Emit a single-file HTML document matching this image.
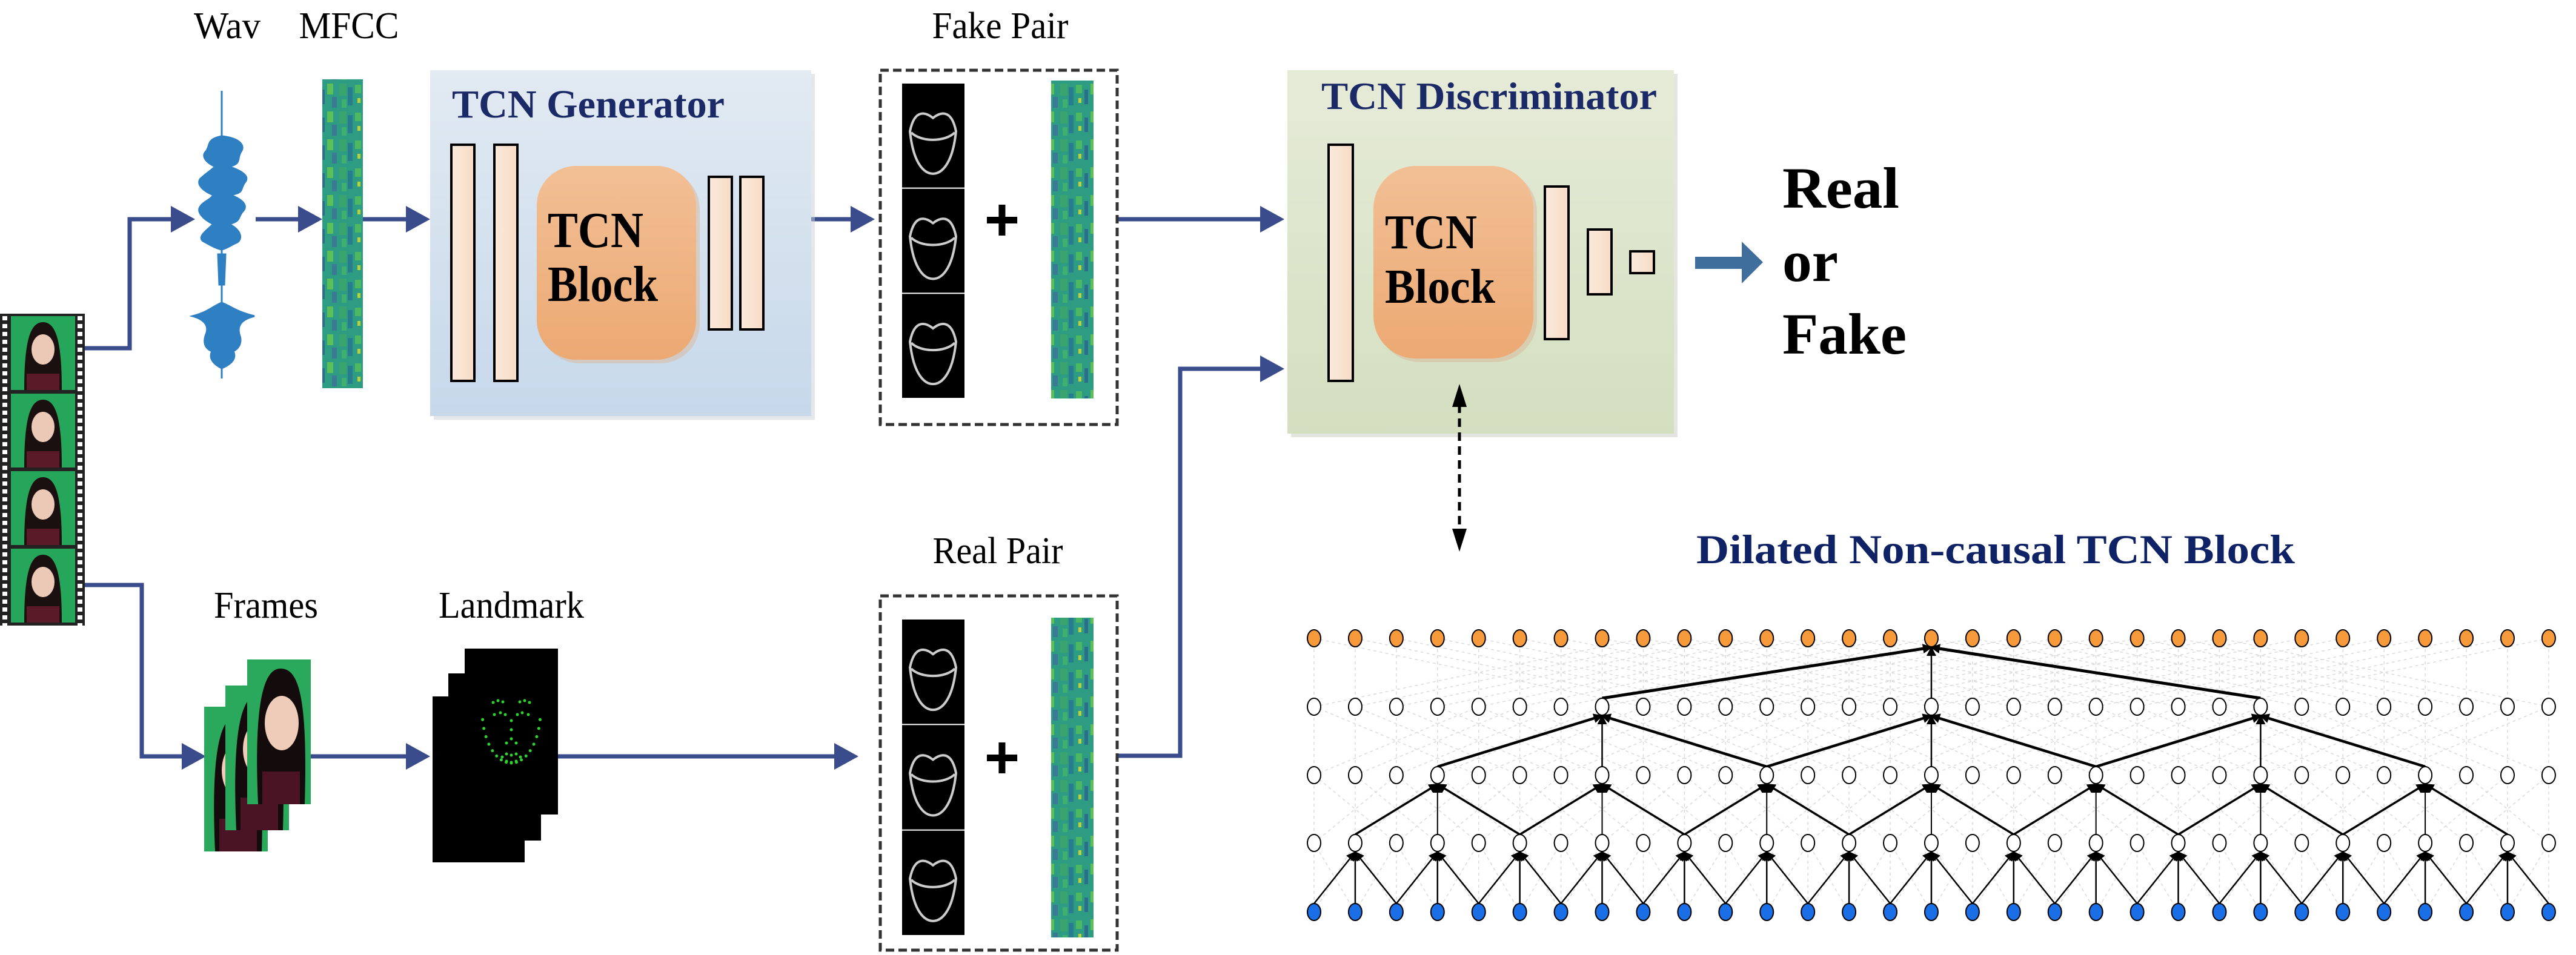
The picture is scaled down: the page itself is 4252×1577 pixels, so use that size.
<!DOCTYPE html>
<html><head><meta charset="utf-8"><style>html,body{margin:0;padding:0;background:#fff}svg{display:block}</style></head>
<body>
<svg id="s" xmlns="http://www.w3.org/2000/svg" width="4252" height="1577" viewBox="0 0 4252 1577">
<defs>
<linearGradient id="gen" x1="0" y1="0" x2="0" y2="1"><stop offset="0" stop-color="#e2eaf2"/><stop offset="1" stop-color="#c6d8ea"/></linearGradient>
<linearGradient id="dis" x1="0" y1="0" x2="0" y2="1"><stop offset="0" stop-color="#e6ebd8"/><stop offset="1" stop-color="#d3dfbf"/></linearGradient>
<linearGradient id="blk" x1="0" y1="0" x2="0" y2="1"><stop offset="0" stop-color="#f2bf95"/><stop offset="1" stop-color="#eca973"/></linearGradient>
<linearGradient id="bar" x1="0" y1="0" x2="1" y2="0"><stop offset="0" stop-color="#fbe9db"/><stop offset="1" stop-color="#f7dcc6"/></linearGradient>
<pattern id="mf" width="70" height="46" patternUnits="userSpaceOnUse">
<rect width="70" height="46" fill="#2e9c82"/><rect x="0" y="0" width="12" height="20" fill="#3aa46f"/><rect x="14" y="6" width="8" height="30" fill="#277c8e"/><rect x="26" y="2" width="10" height="14" fill="#4db864"/><rect x="40" y="10" width="6" height="24" fill="#2a6e8c"/><rect x="50" y="0" width="10" height="18" fill="#5cc05a"/><rect x="30" y="24" width="5" height="8" fill="#b8d040"/><rect x="58" y="22" width="8" height="18" fill="#3a7a94"/><rect x="4" y="26" width="8" height="14" fill="#40b070"/>
</pattern>
<marker id="ah" markerWidth="16" markerHeight="16" refX="7" refY="4" orient="auto" markerUnits="userSpaceOnUse" viewBox="0 0 8 8"><path d="M0,0 L8,4 L0,8 z" fill="#000"/></marker>
</defs>

<!-- film strip -->
<rect x="0" y="518" width="140" height="515" fill="#222"/>
<g id="film"></g>

<!-- navy connectors -->
<g stroke="#3a4c8c" stroke-width="7" fill="none">
<polyline points="140,575 214,575 214,362 300,362"/>
<line x1="422" y1="362" x2="515" y2="362"/>
<line x1="599" y1="362" x2="693" y2="362"/>
<line x1="1335" y1="362" x2="1425" y2="362"/>
<line x1="1844" y1="362" x2="2095" y2="362"/>
<polyline points="1844,1248 1948,1248 1948,609 2095,609"/>
<polyline points="140,966 234,966 234,1249 320,1249"/>
<line x1="513" y1="1249" x2="693" y2="1249"/>
<line x1="921" y1="1249" x2="1400" y2="1249"/>
</g>
<g fill="#3a4c8c">
<path d="M282,340 L322,362 L282,384 Z"/>
<path d="M492,340 L532,362 L492,384 Z"/>
<path d="M670,340 L710,362 L670,384 Z"/>
<path d="M1404,340 L1444,362 L1404,384 Z"/>
<path d="M2080,340 L2120,362 L2080,384 Z"/>
<path d="M2080,587 L2120,609 L2080,631 Z"/>
<path d="M300,1227 L340,1249 L300,1271 Z"/>
<path d="M670,1227 L710,1249 L670,1271 Z"/>
<path d="M1377,1227 L1417,1249 L1377,1271 Z"/>
</g>

<!-- labels -->
<g font-family="Liberation Serif, serif" font-size="62" fill="#000" text-anchor="middle">
<text x="375" y="63" textLength="110" lengthAdjust="spacingAndGlyphs">Wav</text>
<text x="576" y="63" textLength="165" lengthAdjust="spacingAndGlyphs">MFCC</text>
<text x="1651" y="63" textLength="225" lengthAdjust="spacingAndGlyphs">Fake Pair</text>
<text x="1647" y="930" textLength="215" lengthAdjust="spacingAndGlyphs">Real Pair</text>
<text x="439" y="1020" textLength="172" lengthAdjust="spacingAndGlyphs">Frames</text>
<text x="844" y="1020" textLength="240" lengthAdjust="spacingAndGlyphs">Landmark</text>
</g>

<!-- waveform -->
<g fill="#2f7fc3" stroke="#2f7fc3" stroke-width="3">
<line x1="366" y1="150" x2="366" y2="625"/>
<path d="M366,225 C395,228 405,240 398,250 C390,262 400,270 378,275 C398,282 412,290 405,300 C395,312 405,318 380,322 C402,330 410,340 400,350 C392,360 398,365 378,370 C395,378 402,392 392,400 C380,405 375,410 366,412 C355,410 345,403 335,398 C325,390 345,378 352,370 C335,362 325,350 330,342 C335,333 348,330 352,322 C335,315 325,305 330,296 C338,288 348,282 355,275 C340,268 332,258 340,250 C348,240 340,230 366,225 Z"/>
<path d="M366,500 C380,505 390,515 420,522 C395,528 392,540 395,552 C400,565 395,575 385,580 C390,590 385,600 366,608 C350,600 345,590 350,580 C338,575 335,565 340,552 C345,540 340,528 318,522 C345,515 352,505 366,500 Z"/>
<path d="M360,420 L372,420 L370,470 L362,470 Z"/>
</g>

<!-- MFCC strips -->
<rect x="532" y="131" width="67" height="510" fill="url(#mf)"/>
<rect x="1735" y="133" width="70" height="525" fill="url(#mf)"/>
<rect x="1735" y="1020" width="70" height="528" fill="url(#mf)"/>

<!-- Generator -->
<rect x="716" y="122" width="629" height="571" fill="#c8cfd6" opacity="0.5"/>
<rect x="710" y="116" width="629" height="571" fill="url(#gen)"/>
<text x="746" y="194" font-family="Liberation Serif, serif" font-weight="bold" font-size="66" fill="#1b2a66" textLength="450" lengthAdjust="spacingAndGlyphs">TCN Generator</text>
<g fill="url(#bar)" stroke="#000" stroke-width="4">
<rect x="745" y="239" width="38" height="390"/>
<rect x="816" y="239" width="38" height="390"/>
<rect x="1170" y="292" width="38" height="252"/>
<rect x="1222" y="292" width="38" height="252"/>
</g>
<rect x="892" y="280" width="263" height="320" rx="65" fill="#d9b89c" opacity="0.5"/>
<rect x="886" y="274" width="263" height="320" rx="65" fill="url(#blk)"/>
<g font-family="Liberation Serif, serif" font-weight="bold" font-size="84" fill="#000">
<text x="904" y="408" textLength="158" lengthAdjust="spacingAndGlyphs">TCN</text>
<text x="904" y="497" textLength="182" lengthAdjust="spacingAndGlyphs">Block</text>
</g>

<!-- Pair boxes -->
<g fill="none" stroke="#333" stroke-width="5" stroke-dasharray="14,7">
<rect x="1453" y="116" width="391" height="585"/>
<rect x="1453" y="984" width="391" height="585"/>
</g>
<g id="lips"></g>
<g font-family="Liberation Sans, sans-serif" font-weight="bold" font-size="100" fill="#000" text-anchor="middle">
<text x="1654" y="397">+</text>
<text x="1654" y="1285">+</text>
</g>

<!-- frames stack -->
<g id="frames"></g>
<!-- landmark stack -->
<rect x="714" y="1150" width="152" height="274" fill="#000"/>
<rect x="740" y="1112" width="153" height="276" fill="#000"/>
<rect x="767" y="1071" width="154" height="274" fill="#000"/>
<g id="lm" fill="#2fd12f"></g>

<!-- Discriminator -->
<rect x="2131" y="122" width="638" height="600" fill="#c8cec0" opacity="0.5"/>
<rect x="2125" y="116" width="638" height="600" fill="url(#dis)"/>
<text x="2181" y="180" font-family="Liberation Serif, serif" font-weight="bold" font-size="64" fill="#1b2a66" textLength="554" lengthAdjust="spacingAndGlyphs">TCN Discriminator</text>
<g fill="url(#bar)" stroke="#000" stroke-width="4">
<rect x="2193" y="239" width="40" height="390"/>
<rect x="2550" y="308" width="39" height="252"/>
<rect x="2621" y="379" width="39" height="107"/>
<rect x="2691" y="415" width="39" height="36"/>
</g>
<rect x="2273" y="280" width="264" height="318" rx="70" fill="#d9b89c" opacity="0.5"/>
<rect x="2267" y="274" width="264" height="318" rx="70" fill="url(#blk)"/>
<g font-family="Liberation Serif, serif" font-weight="bold" font-size="80" fill="#000">
<text x="2286" y="410" textLength="152" lengthAdjust="spacingAndGlyphs">TCN</text>
<text x="2286" y="500" textLength="182" lengthAdjust="spacingAndGlyphs">Block</text>
</g>
<path d="M2798,424 L2875,424 L2875,399 L2910,433 L2875,468 L2875,444 L2798,444 Z" fill="#3f6e9c"/>
<g font-family="Liberation Serif, serif" font-weight="bold" font-size="96" fill="#000">
<text x="2942" y="343" textLength="193" lengthAdjust="spacingAndGlyphs">Real</text>
<text x="2942" y="464" textLength="92" lengthAdjust="spacingAndGlyphs">or</text>
<text x="2942" y="584" textLength="205" lengthAdjust="spacingAndGlyphs">Fake</text>
</g>

<!-- dashed double arrow -->
<line x1="2409" y1="668" x2="2409" y2="878" stroke="#000" stroke-width="5" stroke-dasharray="14,9"/>
<path d="M2397,672 L2409,634 L2421,672 Z" fill="#000"/>
<path d="M2397,873 L2409,911 L2421,873 Z" fill="#000"/>

<text x="3294" y="930" font-family="Liberation Serif, serif" font-weight="bold" font-size="68" fill="#0f2266" text-anchor="middle" textLength="988" lengthAdjust="spacingAndGlyphs">Dilated Non-causal TCN Block</text>

<g id="bg"></g>
<g id="edges"></g>
<g id="nodes"></g>
</svg>
<script>
(function(){
var NS="http://www.w3.org/2000/svg";
function el(p,t,a){var e=document.createElementNS(NS,t);for(var k in a)e.setAttribute(k,a[k]);document.getElementById(p).appendChild(e);return e;}
for(var i=0;i<4;i++){var y=522+i*128;
 el("film","rect",{x:18,y:y,width:106,height:122,fill:"#26a65b"});
 el("film","path",{d:"M40,"+(y+122)+" C40,"+(y+40)+" 50,"+(y+10)+" 71,"+(y+10)+" C92,"+(y+10)+" 102,"+(y+40)+" 102,"+(y+122)+" Z",fill:"#1a1010"});
 el("film","ellipse",{cx:71,cy:y+55,rx:19,ry:25,fill:"#ecc8b6"});
 el("film","rect",{x:44,y:y+95,width:54,height:27,fill:"#5a1a28"});
}
for(var j=0;j<40;j++){var yy=522+j*13;el("film","rect",{x:4,y:yy,width:8,height:7,fill:"#fff"});el("film","rect",{x:128,y:yy,width:8,height:7,fill:"#fff"});}
[[138,659],[1023,1546]].forEach(function(r){
 var h=(r[1]-r[0])/3;
 for(var k=0;k<3;k++){var y0=r[0]+k*h;
  el("lips","rect",{x:1489,y:y0,width:103,height:h-2,fill:"#000"});
  var cy=y0+h/2;
  el("lips","path",{d:"M1502,"+(cy-8)+" C1510,"+(cy-48)+" 1530,"+(cy-38)+" 1540,"+(cy-30)+" C1550,"+(cy-38)+" 1570,"+(cy-48)+" 1578,"+(cy-8)+" C1572,"+(cy+50)+" 1552,"+(cy+62)+" 1540,"+(cy+62)+" C1528,"+(cy+62)+" 1508,"+(cy+50)+" 1502,"+(cy-8)+" Z",fill:"none",stroke:"#ccc","stroke-width":4});
  el("lips","path",{d:"M1504,"+(cy-6)+" C1520,"+(cy+10)+" 1560,"+(cy+10)+" 1576,"+(cy-6),fill:"none",stroke:"#ccc","stroke-width":4});
 }
});
[[337,1167],[372,1132],[408,1089]].forEach(function(p){var x=p[0],y=p[1];
 el("frames","rect",{x:x,y:y,width:105,height:239,fill:"#2aa95c"});
 el("frames","path",{d:"M"+(x+18)+","+(y+239)+" C"+(x+10)+","+(y+60)+" "+(x+30)+","+(y+15)+" "+(x+55)+","+(y+15)+" C"+(x+85)+","+(y+15)+" "+(x+100)+","+(y+60)+" "+(x+95)+","+(y+239)+" Z",fill:"#140c0c"});
 el("frames","ellipse",{cx:x+57,cy:y+105,rx:28,ry:45,fill:"#efcbb9"});
 el("frames","rect",{x:x+25,y:y+185,width:62,height:54,fill:"#4a1424"});
});
var cx=844,cy=1215;
for(var a=0;a<17;a++){var t=Math.PI*(0.05+0.9*a/16);el("lm","circle",{cx:cx-48*Math.cos(t),cy:cy-40+85*Math.sin(t),r:2.5});}
[[-30,-55],[-22,-58],[-14,-56],[14,-56],[22,-58],[30,-55],[-28,-35],[-18,-38],[-10,-35],[10,-35],[18,-38],[28,-35],[0,-25],[0,-10],[0,5],[-8,12],[8,12],[-15,35],[-8,30],[0,32],[8,30],[15,35],[-8,42],[0,44],[8,42]].forEach(function(d){el("lm","circle",{cx:cx+d[0],cy:cy+d[1],r:2.5});});
var X=function(c){return 2169+c*67.93;};
var R=[1054,1167,1280,1392,1506];
var dil=[8,4,2,1];
for(var L=0;L<4;L++){var d=dil[L];for(var c=0;c<31;c++){[-d,0,d].forEach(function(o){var s=c+o;if(s<0||s>30)return;
 el("bg","line",{x1:X(s),y1:R[L+1],x2:X(c),y2:R[L],stroke:"#dadada","stroke-width":1.5,"stroke-dasharray":"5,5"});});}}
function edge(sc,sr,tc,tr,w){var x1=X(sc),y1=R[sr]-14,x2=X(tc),y2=R[tr]+15;
 el("edges","line",{x1:x1,y1:y1,x2:x2,y2:y2,stroke:"#000","stroke-width":w,"marker-end":"url(#ah)"});}
[7,15,23].forEach(function(c){edge(c,1,15,0,c==15?2.5:5);});
[7,15,23].forEach(function(t){[t-4,t,t+4].forEach(function(s){edge(s,2,t,1,s==t?2.5:4.5);});});
[3,7,11,15,19,23,27].forEach(function(t){[t-2,t,t+2].forEach(function(s){edge(s,3,t,2,s==t?2:3.5);});});
for(var t=1;t<30;t+=2){[t-1,t,t+1].forEach(function(s){edge(s,4,t,3,2.5);});}
for(var r=0;r<5;r++)for(var c=0;c<31;c++){
 el("nodes","ellipse",{cx:X(c),cy:R[r],rx:11,ry:14,fill:r==0?"#f79a3c":(r==4?"#1a6fe6":"#fff"),stroke:"#000","stroke-width":2});}
})();
</script>
</body></html>
